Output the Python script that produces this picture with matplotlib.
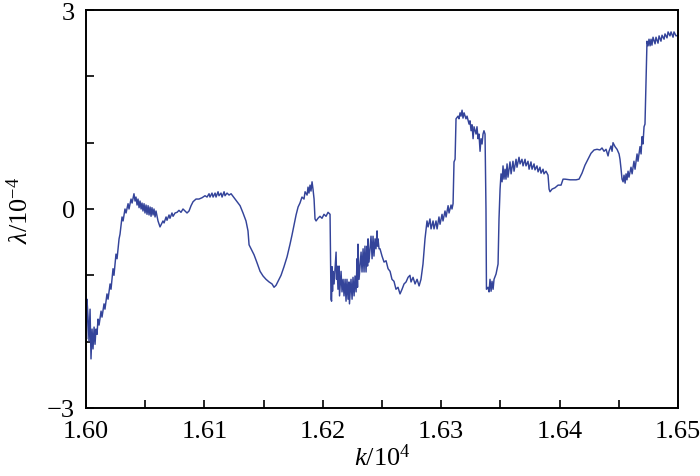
import matplotlib
matplotlib.use("Agg")
import matplotlib.pyplot as plt
from matplotlib.ticker import MultipleLocator, FixedLocator

plt.rcParams['font.family'] = ['Liberation Serif', 'DejaVu Serif']
plt.rcParams['mathtext.fontset'] = 'custom'
plt.rcParams['mathtext.rm'] = 'Liberation Serif'
plt.rcParams['mathtext.it'] = 'Liberation Serif:italic'

k = [1.60000, 1.60004, 1.60008, 1.60017, 1.60025, 1.60034, 1.60042, 1.60051, 1.60059, 1.60068,
     1.60076, 1.60084, 1.60093, 1.60101, 1.60110, 1.60127, 1.60135, 1.60152, 1.60160, 1.60177,
     1.60186, 1.60203, 1.60211, 1.60228, 1.60236, 1.60253, 1.60262, 1.60279, 1.60287, 1.60304,
     1.60313, 1.60329, 1.60338, 1.60355, 1.60363, 1.60380, 1.60389, 1.60405, 1.60414, 1.60422,
     1.60431, 1.60439, 1.60448, 1.60456, 1.60465, 1.60473, 1.60481, 1.60490, 1.60498, 1.60507,
     1.60515, 1.60524, 1.60532, 1.60541, 1.60549, 1.60557, 1.60566, 1.60574, 1.60583, 1.60591,
     1.60608, 1.60625, 1.60633, 1.60650, 1.60659, 1.60676, 1.60684, 1.60701, 1.60709, 1.60726,
     1.60735, 1.60752, 1.60769, 1.60785, 1.60802, 1.60819, 1.60836, 1.60853, 1.60870, 1.60887,
     1.60904, 1.60929, 1.60954, 1.60980, 1.61005, 1.61022, 1.61039, 1.61047, 1.61064, 1.61073,
     1.61090, 1.61098, 1.61115, 1.61123, 1.61140, 1.61149, 1.61166, 1.61174, 1.61191, 1.61208,
     1.61225, 1.61250, 1.61275, 1.61301, 1.61326, 1.61351, 1.61368, 1.61377, 1.61394, 1.61419,
     1.61444, 1.61470, 1.61495, 1.61520, 1.61546, 1.61571, 1.61588, 1.61605, 1.61622, 1.61647,
     1.61672, 1.61698, 1.61723, 1.61740, 1.61757, 1.61774, 1.61791, 1.61807, 1.61824, 1.61841,
     1.61850, 1.61867, 1.61875, 1.61883, 1.61892, 1.61900, 1.61909, 1.61917, 1.61926, 1.61934,
     1.61943, 1.61959, 1.61976, 1.61993, 1.62010, 1.62027, 1.62044, 1.62061, 1.62069, 1.62074,
     1.62078, 1.62082, 1.62086, 1.62095, 1.62112, 1.62116, 1.62120, 1.62128, 1.62137, 1.62141,
     1.62154, 1.62162, 1.62171, 1.62179, 1.62188, 1.62196, 1.62204, 1.62213, 1.62221, 1.62225,
     1.62238, 1.62247, 1.62255, 1.62264, 1.62272, 1.62281, 1.62289, 1.62293, 1.62297, 1.62306,
     1.62323, 1.62331, 1.62340, 1.62348, 1.62356, 1.62365, 1.62373, 1.62378, 1.62382, 1.62390,
     1.62407, 1.62416, 1.62424, 1.62432, 1.62441, 1.62449, 1.62458, 1.62462, 1.62466, 1.62475,
     1.62483, 1.62500, 1.62517, 1.62534, 1.62551, 1.62568, 1.62584, 1.62601, 1.62618, 1.62635,
     1.62652, 1.62669, 1.62686, 1.62703, 1.62720, 1.62736, 1.62745, 1.62762, 1.62779, 1.62796,
     1.62813, 1.62829, 1.62846, 1.62863, 1.62872, 1.62880, 1.62889, 1.62905, 1.62914, 1.62931,
     1.62939, 1.62956, 1.62965, 1.62981, 1.62990, 1.63007, 1.63015, 1.63032, 1.63041, 1.63058,
     1.63066, 1.63083, 1.63091, 1.63100, 1.63108, 1.63117, 1.63125, 1.63142, 1.63150, 1.63159,
     1.63167, 1.63176, 1.63184, 1.63193, 1.63209, 1.63218, 1.63235, 1.63243, 1.63252, 1.63260,
     1.63269, 1.63277, 1.63294, 1.63302, 1.63311, 1.63319, 1.63328, 1.63336, 1.63345, 1.63353,
     1.63361, 1.63370, 1.63378, 1.63382, 1.63395, 1.63404, 1.63412, 1.63421, 1.63429, 1.63438,
     1.63446, 1.63463, 1.63480, 1.63488, 1.63497, 1.63505, 1.63514, 1.63522, 1.63530, 1.63539,
     1.63547, 1.63556, 1.63564, 1.63581, 1.63590, 1.63606, 1.63615, 1.63632, 1.63640, 1.63657,
     1.63666, 1.63682, 1.63691, 1.63708, 1.63716, 1.63733, 1.63742, 1.63758, 1.63767, 1.63784,
     1.63792, 1.63809, 1.63818, 1.63834, 1.63843, 1.63860, 1.63868, 1.63885, 1.63902, 1.63911,
     1.63919, 1.63936, 1.63961, 1.63987, 1.64012, 1.64029, 1.64046, 1.64088, 1.64139, 1.64164,
     1.64189, 1.64214, 1.64240, 1.64265, 1.64291, 1.64316, 1.64341, 1.64358, 1.64375, 1.64392,
     1.64409, 1.64417, 1.64434, 1.64443, 1.64451, 1.64468, 1.64485, 1.64502, 1.64510, 1.64519,
     1.64527, 1.64536, 1.64544, 1.64553, 1.64561, 1.64569, 1.64578, 1.64586, 1.64603, 1.64612,
     1.64628, 1.64637, 1.64654, 1.64662, 1.64679, 1.64688, 1.64696, 1.64704, 1.64713, 1.64721,
     1.64730, 1.64738, 1.64747, 1.64755, 1.64764, 1.64772, 1.64780, 1.64789, 1.64806, 1.64814,
     1.64831, 1.64840, 1.64856, 1.64865, 1.64882, 1.64890, 1.64907, 1.64916, 1.64932, 1.64941,
     1.64958, 1.64966, 1.64983, 1.65000]

lam = [-1.28, -1.96, -1.36, -1.63, -1.99, -1.51, -2.26, -1.81, -2.11, -1.78,
       -2.04, -1.81, -1.89, -1.66, -1.75, -1.54, -1.63, -1.43, -1.51, -1.28,
       -1.36, -1.13, -1.21, -0.90, -1.00, -0.68, -0.75, -0.45, -0.38, -0.12,
       -0.18, 0.00, -0.06, 0.08, 0.00, 0.15, 0.09, 0.23, 0.12, 0.18,
       0.06, 0.15, 0.02, 0.12, 0.00, 0.09, -0.03, 0.08, -0.06, 0.06,
       -0.08, 0.05, -0.09, 0.03, -0.11, 0.02, -0.09, 0.00, -0.12, -0.03,
       -0.18, -0.27, -0.24, -0.18, -0.21, -0.12, -0.17, -0.09, -0.14, -0.06,
       -0.11, -0.06, -0.05, -0.02, -0.05, 0.00, -0.03, -0.06, -0.03, 0.05,
       0.11, 0.15, 0.15, 0.17, 0.20, 0.18, 0.23, 0.18, 0.24, 0.18,
       0.24, 0.18, 0.26, 0.20, 0.24, 0.18, 0.26, 0.20, 0.24, 0.21,
       0.23, 0.17, 0.11, 0.05, -0.06, -0.18, -0.33, -0.54, -0.60, -0.69,
       -0.81, -0.94, -1.01, -1.06, -1.10, -1.13, -1.18, -1.15, -1.09, -1.00,
       -0.87, -0.72, -0.53, -0.39, -0.24, -0.09, 0.03, 0.09, 0.18, 0.15,
       0.26, 0.21, 0.33, 0.24, 0.36, 0.27, 0.41, 0.30, 0.15, -0.15,
       -0.18, -0.14, -0.11, -0.14, -0.08, -0.11, -0.05, -0.08, -1.36, -1.39,
       -0.87, -1.24, -0.94, -1.13, -0.65, -1.06, -0.86, -1.21, -0.86, -1.31,
       -0.94, -1.25, -1.06, -1.31, -1.06, -1.39, -1.06, -1.36, -1.10, -1.43,
       -1.06, -1.36, -1.03, -1.31, -1.01, -1.25, -0.75, -1.18, -0.53, -1.06,
       -0.65, -0.95, -0.60, -0.95, -0.56, -0.95, -0.56, -0.86, -0.45, -0.80,
       -0.41, -0.75, -0.41, -0.71, -0.45, -0.60, -0.33, -0.56, -0.45, -0.60,
       -0.60, -0.71, -0.80, -0.78, -0.90, -0.94, -1.06, -1.09, -1.21, -1.18,
       -1.28, -1.21, -1.13, -1.10, -1.03, -1.00, -1.10, -1.03, -1.13, -1.06,
       -1.16, -1.06, -0.83, -0.45, -0.30, -0.18, -0.27, -0.15, -0.30, -0.18,
       -0.30, -0.18, -0.30, -0.12, -0.23, -0.08, -0.18, -0.03, -0.12, 0.05,
       -0.06, 0.06, 0.00, 0.08, 0.71, 0.75, 1.36, 1.40, 1.36, 1.45,
       1.40, 1.49, 1.37, 1.45, 1.36, 1.40, 1.28, 1.33, 1.18, 1.27,
       1.06, 1.24, 1.13, 1.24, 1.06, 1.13, 0.87, 1.06, 0.98, 1.13,
       1.18, 1.13, 0.00, -1.21, -1.18, -1.25, -1.06, -1.24, -1.09, -1.21,
       -1.06, -0.98, -0.83, -0.15, 0.30, 0.53, 0.41, 0.65, 0.45, 0.60,
       0.45, 0.68, 0.48, 0.71, 0.53, 0.72, 0.57, 0.75, 0.63, 0.78,
       0.68, 0.75, 0.65, 0.75, 0.65, 0.72, 0.60, 0.71, 0.60, 0.68,
       0.59, 0.65, 0.56, 0.63, 0.54, 0.60, 0.53, 0.57, 0.51, 0.30,
       0.26, 0.30, 0.32, 0.36, 0.36, 0.45, 0.45, 0.44, 0.44, 0.45,
       0.54, 0.66, 0.75, 0.84, 0.89, 0.90, 0.89, 0.92, 0.87, 0.90,
       0.80, 0.87, 0.95, 0.87, 1.00, 0.94, 0.90, 0.83, 0.75, 0.60,
       0.45, 0.41, 0.51, 0.39, 0.53, 0.44, 0.57, 0.48, 0.63, 0.53,
       0.72, 0.60, 0.83, 0.72, 0.94, 0.83, 1.09, 0.98, 1.24, 1.28,
       1.92, 2.53, 2.46, 2.56, 2.46, 2.56, 2.47, 2.59, 2.49, 2.59,
       2.50, 2.61, 2.53, 2.62, 2.56, 2.64, 2.58, 2.67, 2.61, 2.67,
       2.59, 2.67, 2.61, 2.62]

x_major = [1.60, 1.61, 1.62, 1.63, 1.64, 1.65]
x_labels = ['1.60', '1.61', '1.62', '1.63', '1.64', '1.65']
y_major = [-3, 0, 3]
y_labels = ['\u22123', '0', '3']

fig = plt.figure(figsize=(7.0, 4.77), dpi=100)
ax = fig.add_axes([0.1229, 0.1426, 0.8457, 0.8343])
ax.plot(k, lam, color='#34449a', lw=1.05)

ax.set_xlim(1.60, 1.65)
ax.set_ylim(-3, 3)
ax.xaxis.set_major_locator(FixedLocator(x_major))
ax.set_xticklabels(x_labels)
ax.xaxis.set_minor_locator(MultipleLocator(0.005))
ax.yaxis.set_major_locator(FixedLocator(y_major))
ax.set_yticklabels(y_labels)
ax.yaxis.set_minor_locator(MultipleLocator(1))

ax.tick_params(which='both', direction='in', length=6, width=1.2,
               top=False, right=False, labelsize=19)
ax.tick_params(axis='x', which='both', pad=9)
ax.tick_params(axis='y', which='both', pad=8)
for s in ax.spines.values():
    s.set_linewidth(1.4)

ax.set_xlabel(r'$k/10^{4}$', fontsize=19, labelpad=1)
ax.set_ylabel(r'$\lambda/10^{-4}$', fontsize=19, labelpad=10)

fig.savefig('out.png', dpi=100)
